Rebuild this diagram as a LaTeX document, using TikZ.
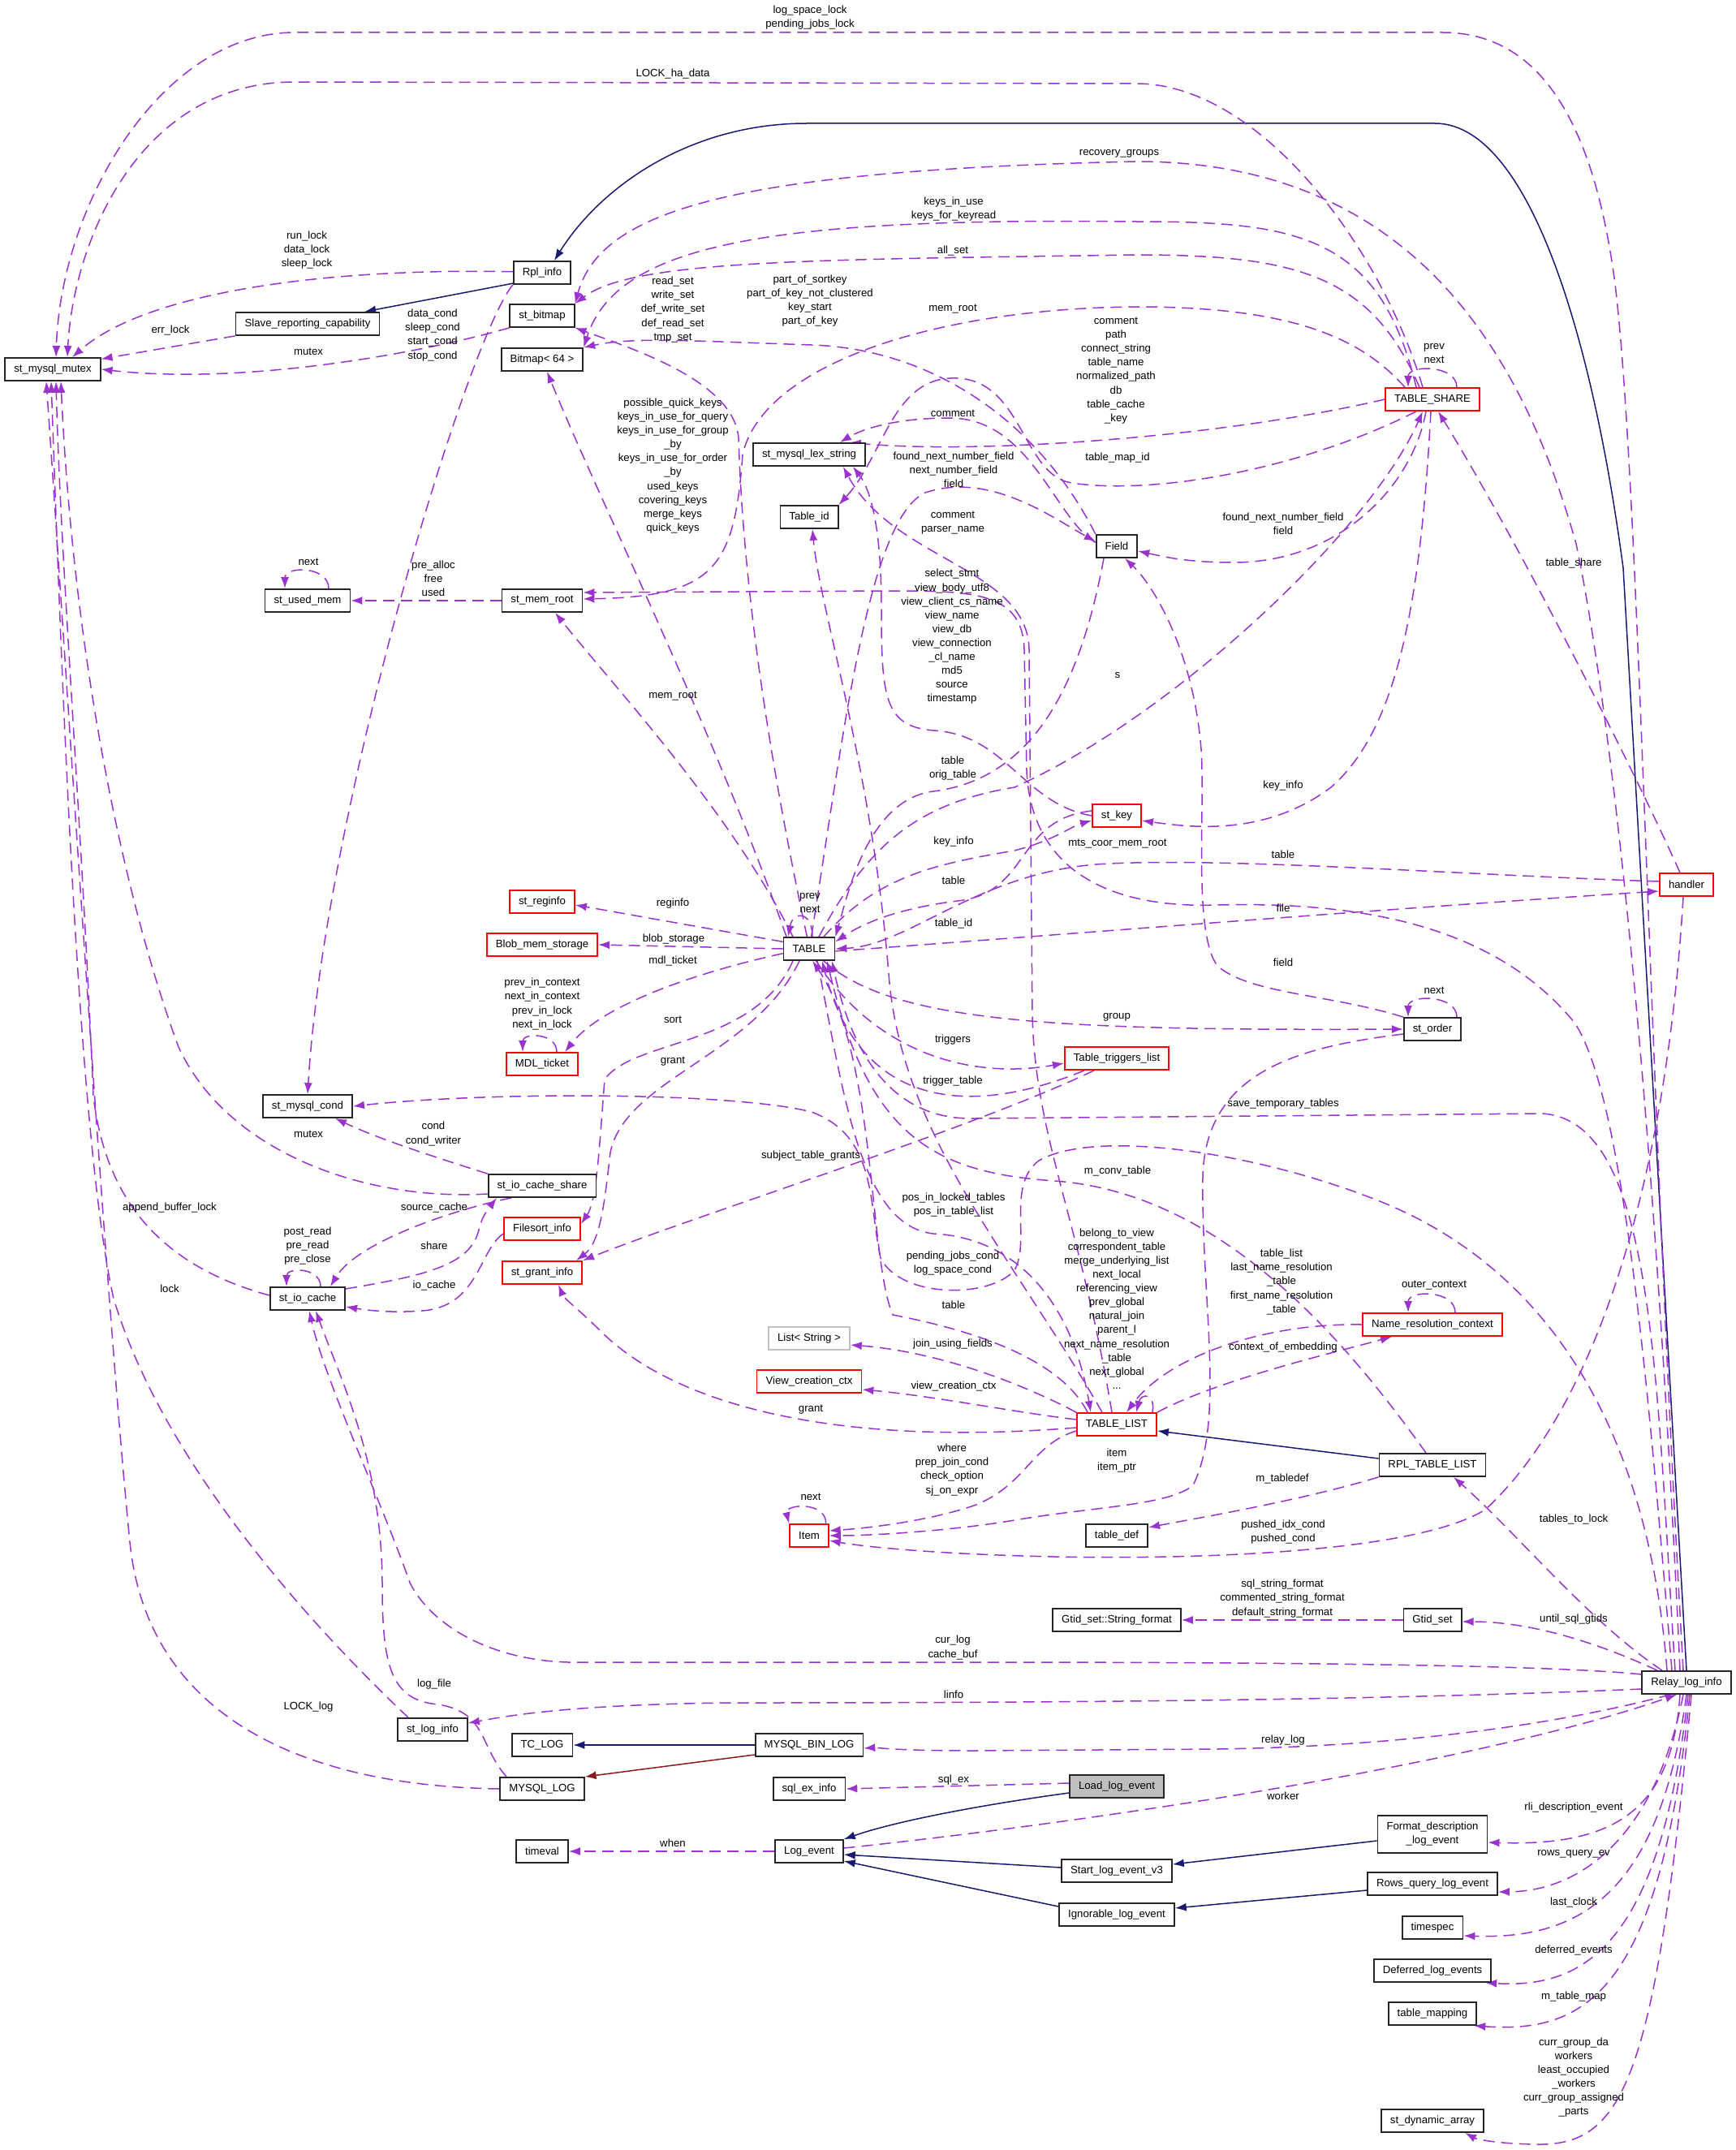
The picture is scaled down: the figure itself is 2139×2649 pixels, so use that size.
\documentclass[tikz,border=0pt]{standalone}
\usepackage{fontspec}
\setmainfont{Liberation Sans}
\usetikzlibrary{arrows.meta,backgrounds}
\definecolor{depcol}{HTML}{9A32CD}
\definecolor{inhcol}{HTML}{191970}
\definecolor{protcol}{HTML}{8B1A1A}
\newcommand{\dgfont}{\fontsize{6.6}{8.55}\selectfont}
\tikzset{
  cls/.style={draw=black!85,line width=0.9pt,fill=white,minimum height=14pt,inner xsep=5.5pt,inner ysep=0pt,font=\dgfont},
  redcls/.style={cls,draw=red},
  graycls/.style={cls,draw=black!25},
  curcls/.style={cls,fill=black!25},
  lbl/.style={font=\dgfont,align=center,inner sep=0pt},
  dep/.style={draw=depcol,line width=0.75pt,dash pattern=on 7pt off 4pt,-{Latex[length=7pt,width=5pt]}},
  inh/.style={draw=inhcol,line width=0.75pt,-{Latex[length=7pt,width=5pt]}},
  prot/.style={draw=protcol,line width=0.75pt,-{Latex[length=7pt,width=5pt]}},
}
\begin{document}
\begin{tikzpicture}[x=0.5pt,y=-0.5pt]
\useasboundingbox (0,0) rectangle (2139,2649);
% classes
\node[cls] (mutex) at (65,455) {st\_mysql\_mutex};
\node[cls] (rpl) at (668,336) {Rpl\_info};
\node[cls] (slave) at (379,399) {Slave\_reporting\_capability};
\node[cls] (bitmapst) at (668,389) {st\_bitmap};
\node[cls] (bitmap) at (668,443) {Bitmap< 64 >};
\node[cls] (usedmem) at (379,740) {st\_used\_mem};
\node[cls] (memroot) at (668,740) {st\_mem\_root};
\node[redcls] (reginfo) at (668,1111) {st\_reginfo};
\node[redcls] (blob) at (668,1164) {Blob\_mem\_storage};
\node[redcls] (mdl) at (668,1311) {MDL\_ticket};
\node[cls] (cond) at (379,1363) {st\_mysql\_cond};
\node[cls] (iocshare) at (668,1461) {st\_io\_cache\_share};
\node[redcls] (filesort) at (668,1514) {Filesort\_info};
\node[redcls] (grantinfo) at (668,1568) {st\_grant\_info};
\node[cls] (iocache) at (379,1600) {st\_io\_cache};
\node[cls] (loginfo) at (533,2131) {st\_log\_info};
\node[cls] (tclog) at (668,2150) {TC\_LOG};
\node[cls] (mysqllog) at (668,2204) {MYSQL\_LOG};
\node[cls] (timeval) at (668,2281) {timeval};
\node[cls] (lexstr) at (997,560) {st\_mysql\_lex\_string};
\node[cls] (tableid) at (997,637) {Table\_id};
\node[cls] (table) at (997,1169) {TABLE};
\node[graycls] (liststr) at (997,1649) {List< String >};
\node[redcls] (viewctx) at (997,1702) {View\_creation\_ctx};
\node[redcls] (item) at (997,1892) {Item};
\node[cls] (binlog) at (997,2150) {MYSQL\_BIN\_LOG};
\node[cls] (sqlex) at (997,2204) {sql\_ex\_info};
\node[cls] (logev) at (997,2281) {Log\_event};
\node[cls] (field) at (1376,673) {Field};
\node[redcls] (stkey) at (1376,1005) {st\_key};
\node[redcls] (triggers) at (1376,1304) {Table\_triggers\_list};
\node[redcls] (tlist) at (1376,1755) {TABLE\_LIST};
\node[cls] (tabledef) at (1376,1892) {table\_def};
\node[cls] (strfmt) at (1376,1996) {Gtid\_set::String\_format};
\node[curcls] (load) at (1376,2201) {Load\_log\_event};
\node[cls] (startev) at (1376,2305) {Start\_log\_event\_v3};
\node[cls] (ignev) at (1376,2359) {Ignorable\_log\_event};
\node[redcls] (share) at (1765,492) {TABLE\_SHARE};
\node[cls] (order) at (1765,1268) {st\_order};
\node[redcls] (nrc) at (1765,1632) {Name\_resolution\_context};
\node[cls] (rpltl) at (1765,1805) {RPL\_TABLE\_LIST};
\node[cls] (gtidset) at (1765,1996) {Gtid\_set};
\node[cls,align=center,minimum height=23pt] (fmtdesc) at (1765,2260) {Format\_description\\\_log\_event};
\node[cls] (rowsq) at (1765,2321) {Rows\_query\_log\_event};
\node[cls] (timespec) at (1765,2375) {timespec};
\node[cls] (deferred) at (1765,2428) {Deferred\_log\_events};
\node[cls] (tmap) at (1765,2481) {table\_mapping};
\node[cls] (dynarr) at (1765,2613) {st\_dynamic\_array};
\node[redcls] (handler) at (2078,1090) {handler};
\node[cls] (rli) at (2078,2073) {Relay\_log\_info};
% member labels
\node[lbl] (lRunLock) at (378,308) {run\_lock\\data\_lock\\sleep\_lock};
\node[lbl] (lErrLock) at (210,407) {err\_lock};
\node[lbl] (lMutexA) at (380,433) {mutex};
\node[lbl] (lDataCond) at (533,413) {data\_cond\\sleep\_cond\\start\_cond\\stop\_cond};
\node[lbl] (lLogSpace) at (998,22) {log\_space\_lock\\pending\_jobs\_lock};
\node[lbl] (lLockHa) at (829,91) {LOCK\_ha\_data};
\node[lbl] (lRecov) at (1379,189) {recovery\_groups};
\node[lbl] (lKeysUse) at (1175,258) {keys\_in\_use\\keys\_for\_keyread};
\node[lbl] (lAllSet) at (1174,309) {all\_set};
\node[lbl] (lReadSet) at (829,381.5) {read\_set\\write\_set\\def\_write\_set\\def\_read\_set\\tmp\_set};
\node[lbl] (lSortKey) at (998,370.5) {part\_of\_sortkey\\part\_of\_key\_not\_clustered\\key\_start\\part\_of\_key};
\node[lbl] (lMemRootS) at (1174,381) {mem\_root};
\node[lbl] (lShareStr) at (1375,456.5) {comment\\path\\connect\_string\\table\_name\\normalized\_path\\db\\table\_cache\\\_key};
\node[lbl] (lQuickKeys) at (829,574) {possible\_quick\_keys\\keys\_in\_use\_for\_query\\keys\_in\_use\_for\_group\\\_by\\keys\_in\_use\_for\_order\\\_by\\used\_keys\\covering\_keys\\merge\_keys\\quick\_keys};
\node[lbl] (lFieldCom) at (1174,509) {comment};
\node[lbl] (lMapId) at (1377,564) {table\_map\_id};
\node[lbl] (lNextNum) at (1175,578.5) {found\_next\_number\_field\\next\_number\_field\\field};
\node[lbl] (lKeyCom) at (1174,644.5) {comment\\parser\_name};
\node[lbl] (lSharePrev) at (1767,435.5) {prev\\next};
\node[lbl] (lShareField) at (1581,645.5) {found\_next\_number\_field\\field};
\node[lbl] (lUsedNext) at (380,692) {next};
\node[lbl] (lPreAlloc) at (534,713) {pre\_alloc\\free\\used};
\node[lbl] (lMdlCtx) at (668,1237) {prev\_in\_context\\next\_in\_context\\prev\_in\_lock\\next\_in\_lock};
\node[lbl] (lMemRootT) at (829,858) {mem\_root};
\node[lbl] (lSelect) at (1173,784.5) {select\_stmt\\view\_body\_utf8\\view\_client\_cs\_name\\view\_name\\view\_db\\view\_connection\\\_cl\_name\\md5\\source\\timestamp};
\node[lbl] (lS) at (1377,832) {s};
\node[lbl] (lOrigTab) at (1174,946.5) {table\\orig\_table};
\node[lbl] (lKeyInfoT) at (1175,1037) {key\_info};
\node[lbl] (lTableK) at (1175,1085) {table};
\node[lbl] (lTableId) at (1175,1138) {table\_id};
\node[lbl] (lTabPrev) at (998,1112.5) {prev\\next};
\node[lbl] (lReginfo) at (829,1113) {reginfo};
\node[lbl] (lBlob) at (830,1157) {blob\_storage};
\node[lbl] (lMdl) at (829,1184) {mdl\_ticket};
\node[lbl] (lSort) at (829,1256) {sort};
\node[lbl] (lGrantT) at (829,1308) {grant};
\node[lbl] (lGroup) at (1376,1253) {group};
\node[lbl] (lTriggers) at (1174,1281) {triggers};
\node[lbl] (lMtsCoor) at (1377,1040) {mts\_coor\_mem\_root};
\node[lbl] (lTabShare) at (1939,694) {table\_share};
\node[lbl] (lKeyInfoS) at (1581,968) {key\_info};
\node[lbl] (lTableH) at (1581,1053) {table};
\node[lbl] (lFile) at (1581,1119) {file};
\node[lbl] (lFieldO) at (1581,1186) {field};
\node[lbl] (lOrderNext) at (1767,1220) {next};
\node[lbl] (lMutexB) at (380,1397) {mutex};
\node[lbl] (lCondW) at (534,1397) {cond\\cond\_writer};
\node[lbl] (lAppend) at (209,1488) {append\_buffer\_lock};
\node[lbl] (lSrcCache) at (535,1488) {source\_cache};
\node[lbl] (lPostRead) at (379,1535) {post\_read\\pre\_read\\pre\_close};
\node[lbl] (lShare) at (535,1535) {share};
\node[lbl] (lLock) at (209,1588) {lock};
\node[lbl] (lIoCache) at (535,1584) {io\_cache};
\node[lbl] (lTrigTab) at (1174,1332) {trigger\_table};
\node[lbl] (lSubjGr) at (999,1424) {subject\_table\_grants};
\node[lbl] (lConvTab) at (1377,1443) {m\_conv\_table};
\node[lbl] (lPosIn) at (1175,1485) {pos\_in\_locked\_tables\\pos\_in\_table\_list};
\node[lbl] (lPendCond) at (1174,1556.5) {pending\_jobs\_cond\\log\_space\_cond};
\node[lbl] (lTableL) at (1175,1608) {table};
\node[lbl] (lJoinUse) at (1174,1656) {join\_using\_fields};
\node[lbl] (lViewCtx) at (1175,1708) {view\_creation\_ctx};
\node[lbl] (lGrantL) at (999,1737) {grant};
\node[lbl] (lWhere) at (1173,1811) {where\\prep\_join\_cond\\check\_option\\sj\_on\_expr};
\node[lbl] (lItemNext) at (999,1844) {next};
\node[lbl] (lItemPtr) at (1376,1799.5) {item\\item\_ptr};
\node[lbl] (lBelong) at (1376,1612.5) {belong\_to\_view\\correspondent\_table\\merge\_underlying\_list\\next\_local\\referencing\_view\\prev\_global\\natural\_join\\parent\_l\\next\_name\_resolution\\\_table\\next\_global\\...};
\node[lbl] (lSaveTmp) at (1581,1360) {save\_temporary\_tables};
\node[lbl] (lTabList) at (1579,1579.5) {table\_list\\last\_name\_resolution\\\_table\\first\_name\_resolution\\\_table};
\node[lbl] (lOuter) at (1767,1584) {outer\_context};
\node[lbl] (lCtxEmb) at (1581,1660) {context\_of\_embedding};
\node[lbl] (lTabDef) at (1580,1822) {m\_tabledef};
\node[lbl] (lPushed) at (1581,1887.5) {pushed\_idx\_cond\\pushed\_cond};
\node[lbl] (lTabLock) at (1939,1872) {tables\_to\_lock};
\node[lbl] (lStrFmt) at (1580,1969.5) {sql\_string\_format\\commented\_string\_format\\default\_string\_format};
\node[lbl] (lLogFile) at (535,2075) {log\_file};
\node[lbl] (lLockLog) at (380,2103) {LOCK\_log};
\node[lbl] (lCurLog) at (1174,2030) {cur\_log\\cache\_buf};
\node[lbl] (lLinfo) at (1175,2088) {linfo};
\node[lbl] (lSqlEx) at (1175,2193) {sql\_ex};
\node[lbl] (lWhen) at (829,2271) {when};
\node[lbl] (lGtids) at (1939,1995) {until\_sql\_gtids};
\node[lbl] (lRelay) at (1581,2144) {relay\_log};
\node[lbl] (lWorker) at (1581,2213) {worker};
\node[lbl] (lRliDesc) at (1939,2227) {rli\_description\_event};
\node[lbl] (lRowsQ) at (1939,2284) {rows\_query\_ev};
\node[lbl] (lClock) at (1939,2344) {last\_clock};
\node[lbl] (lDefer) at (1939,2403) {deferred\_events};
\node[lbl] (lTabMap) at (1939,2460) {m\_table\_map};
\node[lbl] (lGroupDa) at (1939,2559.5) {curr\_group\_da\\workers\\least\_occupied\\\_workers\\curr\_group\_assigned\\\_parts};
\begin{scope}[on background layer]
% inheritance
\draw[inh] (rli.north) -- (2000,700) .. controls (1960,400) and (1880,152) .. (1768,152) -- (994,152) .. controls (850,152) and (740,230) .. (rpl.45);
\draw[inh] (rpl.200) -- (slave.12);
\draw[inh] (binlog.west) -- (tclog.east);
\draw[prot] ([yshift=-6pt]binlog.west) -- (mysqllog.north east);
\draw[inh] ([yshift=-4pt]load.west) .. controls (1200,2225) and (1100,2245) .. (logev.north east);
\draw[inh] ([yshift=2pt]startev.west) -- ([yshift=-2pt]logev.east);
\draw[inh] ([yshift=5pt]ignev.west) -- ([yshift=-6pt]logev.east);
\draw[inh] ([yshift=-4pt]fmtdesc.west) -- ([yshift=4pt]startev.east);
\draw[inh] ([yshift=-4pt]rowsq.west) -- ([yshift=4pt]ignev.east);
\draw[inh] ([yshift=4pt]rpltl.west) -- ([yshift=-4pt]tlist.east);
% into st_mysql_mutex
\draw[dep] ([xshift=-2pt]rli.north) .. controls (2030,1300) and (2020,600) .. (1990,350) .. controls (1960,120) and (1880,40) .. (1777,40) -- (363,40) .. controls (200,40) and (75,250) .. ([xshift=2pt]mutex.north);
\draw[dep] ([xshift=-6pt]share.north) .. controls (1700,300) and (1550,103) .. (1400,103) -- (363,101) .. controls (170,101) and (90,300) .. ([xshift=9pt]mutex.north);
\draw[dep] (rpl.178) .. controls (400,330) and (180,360) .. ([xshift=12pt]mutex.north);
\draw[dep] (slave.south west) -- (mutex.12);
\draw[dep] (bitmapst.south west) .. controls (520,435) and (300,475) .. (mutex.east);
\draw[dep] ([yshift=-5pt]iocshare.west) .. controls (450,1480) and (280,1420) .. (220,1290) .. controls (150,1100) and (90,800) .. ([xshift=5pt]mutex.south);
\draw[dep] ([yshift=2pt]iocache.west) .. controls (200,1560) and (130,1480) .. (115,1350) .. controls (100,1000) and (75,700) .. ([xshift=2pt]mutex.south);
\draw[dep] ([xshift=-15pt]loginfo.north) .. controls (380,2000) and (200,1800) .. (140,1600) .. controls (95,1400) and (75,800) .. ([xshift=-1pt]mutex.south);
\draw[dep] (mysqllog.west) .. controls (350,2200) and (180,2100) .. (160,1900) .. controls (130,1600) and (80,800) .. ([xshift=-4pt]mutex.south);
% st_mysql_cond
\draw[dep] (rpl.south west) .. controls (575,420) and (400,1000) .. (cond.north);
\draw[dep] (iocshare.north west) .. controls (550,1430) and (470,1405) .. ([xshift=17pt]cond.south);
\draw[dep] ([xshift=-12pt]rli.north) .. controls (2030,1750) and (1900,1560) .. (1700,1480) .. controls (1550,1420) and (1350,1390) .. (1280,1430) .. controls (1240,1460) and (1270,1530) .. (1250,1565) .. controls (1220,1600) and (1110,1600) .. (1085,1550) .. controls (1070,1480) and (1080,1400) .. (1000,1370) .. controls (900,1345) and (600,1345) .. (cond.east);
% bitmaps
\draw[dep] ([xshift=-4pt]rli.north) .. controls (2040,1400) and (1990,900) .. (1942,670) .. controls (1880,450) and (1750,199) .. (1400,199) .. controls (900,210) and (740,260) .. (bitmapst.north east);
\draw[dep] ([xshift=-10pt]share.north) .. controls (1700,290) and (1600,273) .. (1400,273) .. controls (950,268) and (760,300) .. (bitmap.north east);
\draw[dep] ([xshift=-8pt]share.north) .. controls (1690,340) and (1600,314) .. (1400,314) .. controls (1000,320) and (780,320) .. (bitmapst.north east);
\draw[dep] (table.100) .. controls (940,900) and (915,700) .. (910,540) .. controls (905,470) and (780,430) .. (bitmapst.south east);
\draw[dep] ([xshift=-14pt]table.north) .. controls (880,900) and (740,620) .. ([xshift=3pt]bitmap.south);
\draw[dep] (field.north west) .. controls (1280,520) and (1150,430) .. (1000,425) .. controls (850,420) and (780,415) .. (bitmap.north east);
% memory roots
\draw[dep] ([xshift=-10pt]table.north) .. controls (900,1000) and (760,850) .. ([xshift=8pt]memroot.south);
\draw[dep] ([xshift=-17pt]share.north) .. controls (1680,420) and (1600,378) .. (1400,378) .. controls (1150,380) and (940,450) .. (915,560) .. controls (905,700) and (880,735) .. ([yshift=1pt]memroot.east);
\draw[dep] ([xshift=-9pt]rli.north) .. controls (2030,1700) and (2000,1350) .. (1940,1260) .. controls (1850,1150) and (1700,1110) .. (1500,1115) .. controls (1350,1120) and (1270,1060) .. (1265,950) -- (1262,800) .. controls (1260,730) and (1200,728) .. (1100,728) -- ([yshift=5pt]memroot.east);
\draw[dep] (memroot.west) -- (usedmem.east);
\draw[dep] ([xshift=13pt]usedmem.north) .. controls +(0pt,14pt) and +(0pt,14pt) .. ([xshift=-14pt]usedmem.north);
% strings and ids
\draw[dep] (share.west) .. controls (1500,540) and (1200,560) .. ([xshift=-10pt]lexstr.north east);
\draw[dep] (field.170) .. controls (1300,640) and (1270,515) .. (1170,515) .. controls (1100,515) and (1060,530) .. ([xshift=-16pt]lexstr.north east);
\draw[dep] (stkey.west) .. controls (1260,990) and (1240,905) .. (1150,900) .. controls (1090,895) and (1086,860) .. (1086,750) .. controls (1086,640) and (1070,600) .. ([xshift=-8pt]lexstr.south east);
\draw[dep] ([xshift=-3pt]tlist.north) .. controls (1330,1500) and (1275,1400) .. (1272,1250) -- (1268,800) .. controls (1266,700) and (1100,690) .. ([xshift=-14pt]lexstr.south east);
\draw[dep] ([xshift=-10pt]share.south) .. controls (1600,580) and (1420,610) .. (1320,595) .. controls (1260,585) and (1260,470) .. (1180,466) .. controls (1100,462) and (1090,560) .. (tableid.north east);
\draw[dep] ([xshift=-9pt]tlist.north) .. controls (1250,1550) and (1110,1400) .. (1095,1200) .. controls (1075,950) and (1010,750) .. ([xshift=2pt]tableid.south);
% Field
\draw[dep] ([xshift=-4pt]share.south) .. controls (1740,600) and (1650,693) .. (1520,693) .. controls (1460,693) and (1430,685) .. ([yshift=-3pt]field.east);
\draw[dep] (table.80) .. controls (1040,900) and (1070,640) .. (1140,607) .. controls (1220,580) and (1300,640) .. ([yshift=3pt]field.west);
\draw[dep] (order.north west) .. controls (1640,1225) and (1540,1225) .. (1500,1190) .. controls (1470,1150) and (1485,1000) .. (1480,923) .. controls (1470,800) and (1420,720) .. ([xshift=5pt]field.south);
% TABLE_SHARE
\draw[dep] ([xshift=15pt]share.north) .. controls +(0pt,14pt) and +(0pt,14pt) .. ([xshift=-15pt]share.north);
\draw[dep] ([xshift=-4pt]handler.north) .. controls (2000,920) and (1860,650) .. ([xshift=3.5pt]share.south);
\draw[dep] ([xshift=6pt]table.north) .. controls (1070,1040) and (1130,990) .. (1250,970) .. controls (1450,880) and (1690,650) .. ([xshift=-6pt]share.south);
% st_key
\draw[dep] ([xshift=-1pt]share.south) .. controls (1750,750) and (1720,900) .. (1640,970) .. controls (1560,1030) and (1470,1020) .. ([yshift=-3pt]stkey.east);
\draw[dep] ([xshift=9pt]table.north) .. controls (1080,1080) and (1150,1065) .. (1250,1048) .. controls (1300,1035) and (1320,1018) .. ([yshift=-3pt]stkey.west);
% into TABLE
\draw[dep] ([xshift=2pt]table.north) .. controls +(0pt,16pt) and +(3pt,16pt) .. ([xshift=-13pt]table.north);
\draw[dep] ([yshift=3pt]stkey.west) .. controls (1250,1010) and (1270,1100) .. (1180,1110) .. controls (1100,1120) and (1060,1140) .. (table.15);
\draw[dep] ([xshift=-8pt]field.south) .. controls (1330,850) and (1270,960) .. (1150,975) .. controls (1070,985) and (1045,1100) .. (table.north east);
\draw[dep] ([yshift=2pt]handler.west) .. controls (1800,1078) and (1500,1055) .. (1350,1065) .. controls (1200,1078) and (1120,1165) .. (table.east);
\draw[dep] ([xshift=-20pt]triggers.south) .. controls (1200,1375) and (1060,1370) .. ([xshift=8pt]table.south);
\draw[dep] ([xshift=-18pt]tlist.north) .. controls (1300,1660) and (1150,1630) .. (1100,1620) .. controls (1070,1550) and (1080,1300) .. ([xshift=2pt]table.south);
\draw[dep] ([xshift=-4pt]rpltl.north) .. controls (1650,1640) and (1500,1470) .. (1300,1455) .. controls (1150,1445) and (1070,1400) .. ([xshift=11pt]table.south);
\draw[dep] ([xshift=-7pt]rli.north) .. controls (2040,1700) and (2040,1380) .. (1900,1372) -- (1200,1378) .. controls (1100,1380) and (1050,1300) .. ([xshift=14pt]table.south);
% out of TABLE
\draw[dep] (table.-5) .. controls (1200,1160) and (1700,1120) .. ([yshift=-4pt]handler.west);
\draw[dep] (table.-40) .. controls (1100,1260) and (1300,1270) .. (order.west);
\draw[dep] (table.-60) .. controls (1080,1300) and (1200,1330) .. ([yshift=-3pt]triggers.west);
\draw[dep] ([xshift=-6pt]table.south) .. controls (930,1300) and (770,1330) .. (752,1420) .. controls (745,1480) and (740,1530) .. ([xshift=-4pt]grantinfo.north east);
\draw[dep] ([xshift=-10pt]table.south) .. controls (930,1290) and (780,1280) .. (745,1330) .. controls (738,1420) and (735,1480) .. ([yshift=3pt]filesort.east);
\draw[dep] (table.-170) .. controls (850,1200) and (740,1240) .. ([xshift=14pt]mdl.north);
\draw[dep] (table.165) -- ([yshift=-2pt]reginfo.east);
\draw[dep] (table.west) -- (blob.east);
\draw[dep] ([xshift=5pt]table.south) .. controls (1040,1350) and (1060,1510) .. (1150,1520) .. controls (1250,1525) and (1320,1600) .. ([xshift=-16pt]tlist.north);
\draw[dep] ([xshift=9pt]mdl.north) .. controls +(0pt,12pt) and +(0pt,12pt) .. ([xshift=-12pt]mdl.north);
\draw[dep] ([xshift=-14pt]triggers.south) .. controls (1200,1390) and (850,1500) .. (grantinfo.north east);
% io caches
\draw[dep] ([xshift=8pt]iocache.north) .. controls +(0pt,12pt) and +(0pt,12pt) .. ([xshift=-13pt]iocache.north);
\draw[dep] ([xshift=-19pt]iocshare.south) .. controls (560,1490) and (440,1530) .. ([xshift=14pt]iocache.north);
\draw[dep] ([yshift=6pt]iocache.east) .. controls (520,1572) and (580,1560) .. (590,1515) .. controls (595,1495) and (605,1485) .. ([xshift=-28pt]iocshare.south);
\draw[dep] ([yshift=-3pt]filesort.west) .. controls (590,1540) and (590,1610) .. (520,1615) .. controls (480,1618) and (450,1614) .. ([yshift=-5pt]iocache.east);
\draw[dep] ([xshift=-22pt]mysqllog.north) .. controls (590,2150) and (600,2110) .. (540,2100) .. controls (480,2095) and (471,2050) .. (471,1950) .. controls (470,1800) and (420,1700) .. ([xshift=5pt]iocache.south);
\draw[dep] ([yshift=5pt]rli.west) .. controls (1900,2050) and (1500,2048) .. (1200,2048) -- (700,2048) .. controls (600,2045) and (530,2000) .. (505,1950) .. controls (470,1850) and (400,1700) .. ([xshift=1pt]iocache.south);
% TABLE_LIST
\draw[dep] ([xshift=22pt]tlist.north) .. controls +(2pt,12pt) and +(3pt,12pt) .. ([xshift=12pt]tlist.north);
\draw[dep] (nrc.west) .. controls (1560,1630) and (1440,1670) .. ([xshift=6pt]tlist.north);
\draw[dep] (tlist.north east) .. controls (1500,1700) and (1650,1665) .. ([xshift=-25pt]nrc.south);
\draw[dep] ([xshift=14pt]nrc.north) .. controls +(0pt,14pt) and +(0pt,14pt) .. ([xshift=-15pt]nrc.north);
\draw[dep] (tlist.north west) .. controls (1250,1700) and (1150,1665) .. ([yshift=-4pt]liststr.east);
\draw[dep] ([yshift=3pt]tlist.west) .. controls (1250,1740) and (1150,1720) .. ([yshift=-5pt]viewctx.east);
\draw[dep] ([yshift=-2pt]tlist.west) .. controls (1000,1785) and (820,1720) .. (740,1640) .. controls (715,1615) and (695,1600) .. ([xshift=10pt]grantinfo.south);
\draw[dep] ([yshift=-4pt]tlist.west) .. controls (1270,1780) and (1265,1830) .. (1200,1855) .. controls (1150,1872) and (1080,1882) .. ([yshift=3pt]item.east);
\draw[dep] (rpltl.south west) .. controls (1600,1850) and (1450,1875) .. ([yshift=5pt]tabledef.east);
\draw[dep] ([xshift=-15pt]rli.north) .. controls (1960,2000) and (1870,1890) .. ([xshift=13pt]rpltl.south);
% Item
\draw[dep] ([xshift=-2pt]item.north east) .. controls +(0pt,14pt) and +(-3pt,12pt) .. (item.north west);
\draw[dep] ([yshift=-3pt]order.west) .. controls (1600,1290) and (1485,1320) .. (1482,1450) .. controls (1480,1600) and (1510,1750) .. (1470,1830) .. controls (1440,1855) and (1350,1856) .. (1250,1873) .. controls (1180,1885) and (1080,1892) .. (item.east);
\draw[dep] ([xshift=-2pt]handler.south) .. controls (2050,1500) and (1950,1750) .. (1830,1860) .. controls (1750,1910) and (1500,1922) .. (1300,1918) .. controls (1150,1915) and (1060,1905) .. ([yshift=-3pt]item.east);
\draw[dep] ([xshift=15pt]order.north) .. controls +(0pt,14pt) and +(0pt,14pt) .. ([xshift=-15pt]order.north);
% log side
\draw[dep] ([xshift=-18pt]rli.north) .. controls (1960,2020) and (1880,1998) .. ([yshift=-1pt]gtidset.east);
\draw[dep] (gtidset.west) -- (strfmt.east);
\draw[dep] ([yshift=-4pt]rli.west) .. controls (1700,2095) and (1300,2098) .. (900,2098) .. controls (700,2100) and (620,2115) .. ([yshift=4pt]loginfo.east);
\draw[dep] ([xshift=-10pt]rli.south) .. controls (1900,2130) and (1700,2152) .. (1500,2155) -- (1200,2157) .. controls (1100,2157) and (1080,2153) .. ([yshift=-2pt]binlog.east);
\draw[dep] ([yshift=2pt]logev.east) .. controls (1300,2250) and (1800,2180) .. ([xshift=-6pt]rli.south);
\draw[dep] ([yshift=2pt]load.west) -- (sqlex.east);
\draw[dep] (logev.west) -- (timeval.east);
\draw[dep] ([xshift=-4pt]rli.south) .. controls (2060,2230) and (1990,2275) .. ([yshift=-5pt]fmtdesc.east);
\draw[dep] ([xshift=-2pt]rli.south) .. controls (2040,2260) and (1950,2330) .. ([yshift=-5pt]rowsq.east);
\draw[dep] (rli.south) .. controls (2045,2330) and (1950,2390) .. ([yshift=-5pt]timespec.east);
\draw[dep] ([xshift=1pt]rli.south) .. controls (2045,2400) and (1950,2450) .. ([xshift=-4pt]deferred.south east);
\draw[dep] ([xshift=2pt]rli.south) .. controls (2045,2460) and (1950,2505) .. ([xshift=-2pt]tmap.south east);
\draw[dep] ([xshift=3pt]rli.south) .. controls (2040,2560) and (2000,2640) .. (1900,2642) .. controls (1850,2642) and (1820,2636) .. ([xshift=20pt]dynarr.south);
\end{scope}
\end{tikzpicture}
\end{document}
